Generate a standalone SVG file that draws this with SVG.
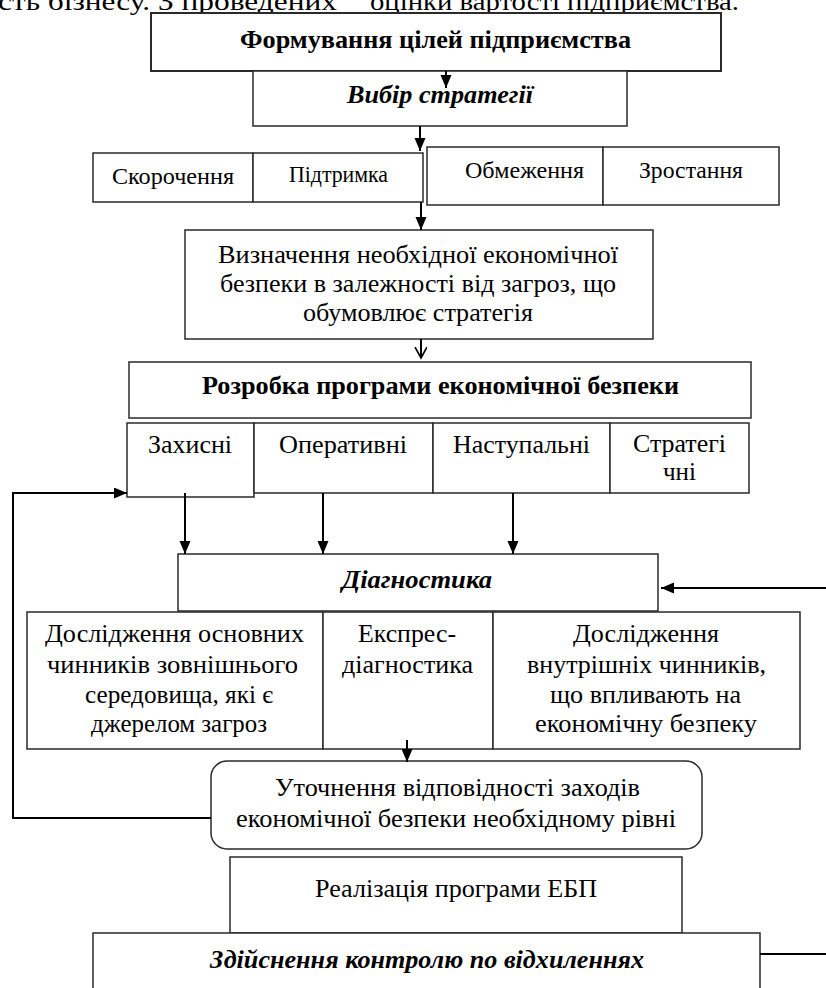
<svg xmlns="http://www.w3.org/2000/svg" width="826" height="988" viewBox="0 0 826 988">
<style>
.box{fill:#fff;stroke:#2a2a2a;stroke-width:1.5}
.thick{stroke-width:2}
.t{font-family:"Liberation Serif","Times New Roman",serif;fill:#000}
.b{font-weight:bold}
.i{font-style:italic}
.con{fill:none;stroke:#000;stroke-width:2}
</style>
<defs>
<marker id="ah" markerUnits="userSpaceOnUse" markerWidth="14" markerHeight="12" refX="13" refY="5.5" orient="auto">
<path d="M0,0 L13,5.5 L0,11 z" fill="#000"/>
</marker>
<marker id="av" markerUnits="userSpaceOnUse" markerWidth="14" markerHeight="14" refX="11" refY="6" orient="auto">
<path d="M0,0 L11,6 L0,12" fill="none" stroke="#000" stroke-width="1.6"/>
</marker>
</defs>
<rect x="0" y="0" width="826" height="988" fill="#fff"/>

<g id="header-text">
<text class="t" x="-2" y="10" font-size="25" textLength="339" lengthAdjust="spacingAndGlyphs">сть бізнесу. З проведених</text>
<text class="t" x="370" y="10" font-size="25" textLength="369" lengthAdjust="spacingAndGlyphs">оцінки вартості підприємства.</text>
</g>

<g id="n-goals">
<rect class="box thick" x="151" y="13" width="570" height="58"/>
<text class="t b" x="240" y="48" font-size="25" textLength="391" lengthAdjust="spacingAndGlyphs">Формування цілей підприємства</text>
</g>

<g id="n-strategy">
<rect class="box" x="253" y="71" width="374" height="55" stroke="#555"/>
<text class="t b i" x="347" y="103" font-size="25" textLength="186" lengthAdjust="spacingAndGlyphs">Вибір стратегії</text>
</g>

<g id="n-reduce">
<rect class="box" x="93" y="153" width="160" height="49"/>
<text class="t" x="112" y="184" font-size="24" textLength="122" lengthAdjust="spacingAndGlyphs">Скорочення</text>
</g>
<g id="n-support">
<rect class="box" x="253" y="153" width="170" height="49"/>
<text class="t" x="289" y="182" font-size="23" textLength="99" lengthAdjust="spacingAndGlyphs">Підтримка</text>
</g>
<g id="n-limit">
<rect class="box" x="427" y="147" width="176" height="58"/>
<text class="t" x="465" y="178" font-size="24" textLength="119" lengthAdjust="spacingAndGlyphs">Обмеження</text>
</g>
<g id="n-growth">
<rect class="box" x="603" y="147" width="176" height="58"/>
<text class="t" x="639" y="178" font-size="24" textLength="104" lengthAdjust="spacingAndGlyphs">Зростання</text>
</g>

<g id="n-define">
<rect class="box" x="185" y="230" width="468" height="109"/>
<text class="t" x="218" y="263" font-size="25" textLength="400" lengthAdjust="spacingAndGlyphs">Визначення необхідної економічної</text>
<text class="t" x="220" y="292" font-size="25" textLength="396" lengthAdjust="spacingAndGlyphs">безпеки в залежності від загроз, що</text>
<text class="t" x="303" y="321" font-size="25" textLength="230" lengthAdjust="spacingAndGlyphs">обумовлює стратегія</text>
</g>

<g id="n-program">
<rect class="box" x="129" y="362" width="622" height="56"/>
<text class="t b" x="202" y="394" font-size="25" textLength="477" lengthAdjust="spacingAndGlyphs">Розробка програми економічної безпеки</text>
</g>

<g id="n-protect">
<rect class="box" x="127" y="423" width="127" height="74"/>
<text class="t" x="148" y="453" font-size="25" textLength="84" lengthAdjust="spacingAndGlyphs">Захисні</text>
</g>
<g id="n-operative">
<rect class="box" x="254" y="423" width="179" height="70"/>
<text class="t" x="279" y="453" font-size="25" textLength="128" lengthAdjust="spacingAndGlyphs">Оперативні</text>
</g>
<g id="n-offensive">
<rect class="box" x="433" y="423" width="177" height="70"/>
<text class="t" x="453" y="453" font-size="25" textLength="137" lengthAdjust="spacingAndGlyphs">Наступальні</text>
</g>
<g id="n-strategic">
<rect class="box" x="610" y="423" width="139" height="70"/>
<text class="t" x="633" y="452" font-size="25" textLength="93" lengthAdjust="spacingAndGlyphs">Стратегі</text>
<text class="t" x="663" y="480" font-size="25" textLength="33" lengthAdjust="spacingAndGlyphs">чні</text>
</g>

<g id="n-diagnostics">
<rect class="box" x="178" y="554" width="480" height="57"/>
<text class="t b i" x="342" y="588" font-size="25" textLength="150" lengthAdjust="spacingAndGlyphs">Діагностика</text>
</g>

<g id="n-external">
<rect class="box" x="27" y="612" width="296" height="137"/>
<text class="t" x="45" y="642" font-size="25" textLength="259" lengthAdjust="spacingAndGlyphs">Дослідження основних</text>
<text class="t" x="47" y="673" font-size="25" textLength="251" lengthAdjust="spacingAndGlyphs">чинників зовнішнього</text>
<text class="t" x="85" y="703" font-size="25" textLength="188" lengthAdjust="spacingAndGlyphs">середовища, які є</text>
<text class="t" x="91" y="732" font-size="25" textLength="176" lengthAdjust="spacingAndGlyphs">джерелом загроз</text>
</g>
<g id="n-express">
<rect class="box" x="323" y="612" width="170" height="137"/>
<text class="t" x="358" y="642" font-size="25" textLength="98" lengthAdjust="spacingAndGlyphs">Експрес-</text>
<text class="t" x="342" y="673" font-size="25" textLength="131" lengthAdjust="spacingAndGlyphs">діагностика</text>
</g>
<g id="n-internal">
<rect class="box" x="493" y="612" width="307" height="137"/>
<text class="t" x="573" y="642" font-size="25" textLength="146" lengthAdjust="spacingAndGlyphs">Дослідження</text>
<text class="t" x="527" y="673" font-size="25" textLength="239" lengthAdjust="spacingAndGlyphs">внутрішніх чинників,</text>
<text class="t" x="550" y="703" font-size="25" textLength="191" lengthAdjust="spacingAndGlyphs">що впливають на</text>
<text class="t" x="535" y="732" font-size="25" textLength="222" lengthAdjust="spacingAndGlyphs">економічну безпеку</text>
</g>

<g id="n-refine">
<rect class="box" x="211" y="761" width="491" height="88" rx="16" ry="16"/>
<text class="t" x="275" y="796" font-size="25" textLength="365" lengthAdjust="spacingAndGlyphs">Уточнення відповідності заходів</text>
<text class="t" x="236" y="827" font-size="25" textLength="440" lengthAdjust="spacingAndGlyphs">економічної безпеки необхідному рівні</text>
</g>

<g id="n-implement">
<rect class="box" x="230" y="857" width="452" height="76"/>
<text class="t" x="315" y="897" font-size="26" textLength="282" lengthAdjust="spacingAndGlyphs">Реалізація програми ЕБП</text>
</g>

<g id="n-control">
<rect class="box" x="93" y="933" width="667" height="70"/>
<text class="t b i" x="210" y="968" font-size="25" textLength="434" lengthAdjust="spacingAndGlyphs">Здійснення контролю по відхиленнях</text>
</g>

<g id="connectors">
<line class="con" x1="446" y1="71" x2="446" y2="88" marker-end="url(#ah)"/>
<line class="con" x1="420" y1="126" x2="420" y2="151" marker-end="url(#ah)"/>
<line class="con" x1="421" y1="202" x2="421" y2="230" marker-end="url(#ah)"/>
<line class="con" x1="421" y1="339" x2="421" y2="358" stroke-width="1.6" marker-end="url(#av)"/>
<polyline class="con" points="211,818 13,818 13,493 127,493" marker-end="url(#ah)"/>
<line class="con" x1="185" y1="493" x2="185" y2="554" marker-end="url(#ah)"/>
<line class="con" x1="323" y1="493" x2="323" y2="554" marker-end="url(#ah)"/>
<line class="con" x1="513" y1="493" x2="513" y2="554" marker-end="url(#ah)"/>
<line class="con" x1="828" y1="588" x2="661" y2="588" marker-end="url(#ah)"/>
<line class="con" x1="407" y1="740" x2="407" y2="762" marker-end="url(#ah)"/>
<line class="con" x1="760" y1="954" x2="828" y2="954" stroke-width="1.5"/>
</g>
</svg>
